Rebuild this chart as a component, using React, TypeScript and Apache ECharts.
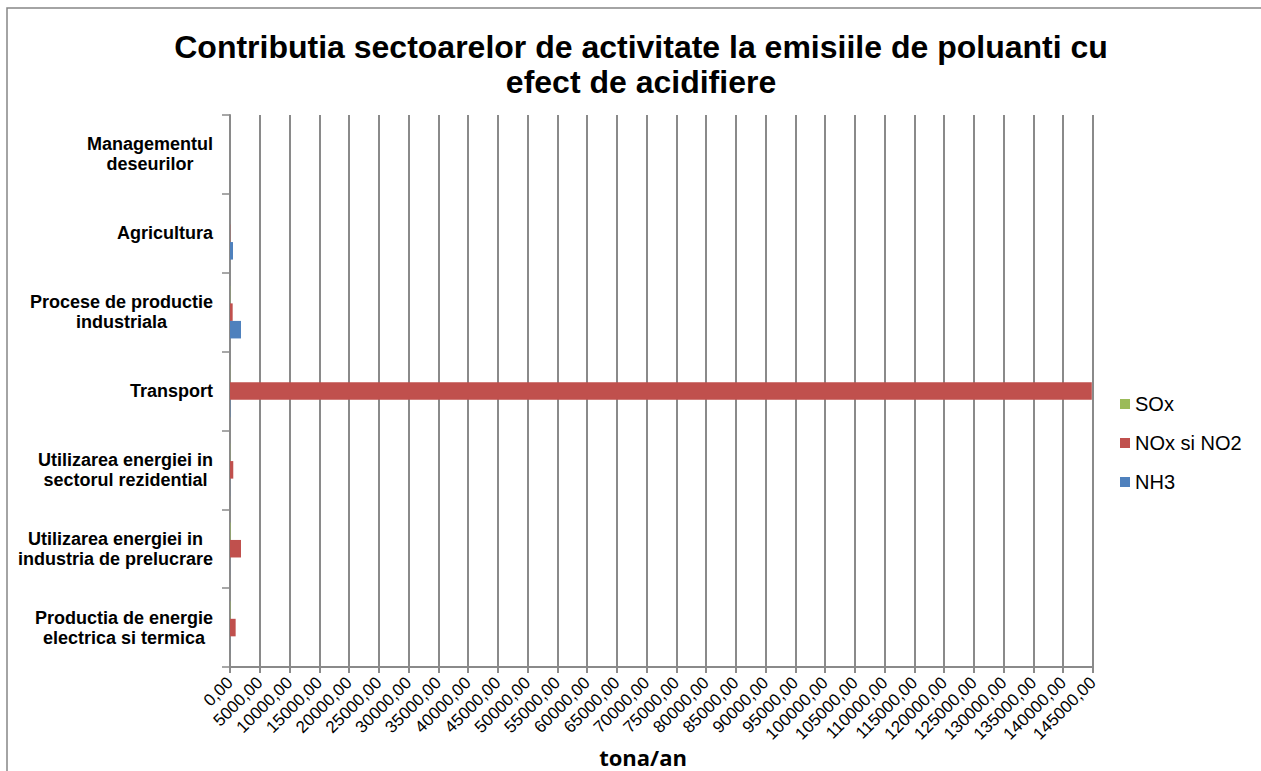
import React, { useEffect, useRef } from "react";
import * as echarts from "echarts";

const TITLE = "Contributia sectoarelor de activitate la emisiile de poluanti cu\nefect de acidifiere";
const AXIS_NAME = "tona/an";

const categories = [
  "Productia de energie\nelectrica si termica",
  "Utilizarea energiei in\nindustria de prelucrare",
  "Utilizarea energiei in\nsectorul rezidential",
  "Transport",
  "Procese de productie\nindustriala",
  "Agricultura",
  "Managementul\ndeseurilor",
];

const seriesNames = ["SOx", "NOx si NO2", "NH3"];
const soxValues = [60, 80, 30, 25, 40, 0, 0];
const noxValues = [950, 1850, 550, 144800, 450, 40, 0];
const nh3Values = [10, 15, 20, 60, 1850, 500, 0];

const COLORS: Record<string, string> = {
  SOx: "#9BBB59",
  "NOx si NO2": "#C0504D",
  NH3: "#4F81BD",
};

const AX_MIN = 0;
const AX_MAX = 145000;
const AX_STEP = 5000;

const FONT = "'Liberation Sans', Arial, sans-serif";

export default function App() {
  const ref = useRef<HTMLDivElement>(null);

  useEffect(() => {
    if (!ref.current) return;
    const chart = echarts.init(ref.current, undefined, { renderer: "svg" });

    const mk = (name: string, data: number[]) => ({
      name,
      type: "bar",
      data,
      barGap: "0%",
      barCategoryGap: "33.3%",
      itemStyle: { color: COLORS[name] },
    });

    chart.setOption({
      animation: false,
      backgroundColor: "#ffffff",
      textStyle: { fontFamily: FONT },
      graphic: [
        {
          type: "rect",
          shape: { x: 7, y: 8, width: 1400, height: 900 },
          style: { fill: "none", stroke: "#868686", lineWidth: 1.5 },
          silent: true,
          z: -10,
        },
        {
          type: "text",
          x: 641,
          y: 29,
          style: {
            text: TITLE,
            align: "center",
            verticalAlign: "top",
            fontFamily: FONT,
            fontWeight: "bold",
            fontSize: 32,
            lineHeight: 35,
            fill: "#000000",
          },
        },
        {
          type: "text",
          x: 643,
          y: 757,
          style: {
            text: AXIS_NAME,
            align: "center",
            verticalAlign: "middle",
            fontFamily: "'Open Sans', sans-serif",
            fontWeight: "bold",
            fontSize: 22,
            fill: "#000000",
          },
        },
      ],
      legend: {
        data: seriesNames,
        orient: "vertical",
        left: 1115,
        top: 389,
        itemWidth: 10,
        itemHeight: 10,
        itemGap: 19,
        icon: "rect",
        textStyle: { fontFamily: FONT, fontSize: 20, color: "#000", lineHeight: 20 },
      },
      grid: { left: 230, right: 168, top: 115, bottom: 104, containLabel: false },
      xAxis: {
        type: "value",
        min: AX_MIN,
        max: AX_MAX,
        interval: AX_STEP,
        axisLine: { show: true, lineStyle: { color: "#8a8a8a", width: 2 } },
        axisTick: { show: true, length: 6, lineStyle: { color: "#8a8a8a", width: 2 } },
        splitLine: { show: true, lineStyle: { color: "#8a8a8a", width: 2 } },
        axisLabel: {
          rotate: 45,
          margin: 13,
          fontFamily: FONT,
          fontSize: 17,
          color: "#000",
          formatter: (v: number) => v.toFixed(2).replace(".", ","),
        },
      },
      yAxis: {
        type: "category",
        data: categories,
        axisLine: { show: true, lineStyle: { color: "#8a8a8a", width: 2 } },
        axisTick: { show: true, length: 8, lineStyle: { color: "#8a8a8a", width: 1.5 } },
        splitLine: { show: false },
        axisLabel: {
          margin: 17,
          align: "right",
          formatter: (v: string) =>
            v
              .split("\n")
              .map((l) => `{c|${l}}`)
              .join("\n"),
          rich: {
            c: {
              align: "center",
              fontFamily: FONT,
              fontWeight: "bold",
              fontSize: 18,
              lineHeight: 20,
              color: "#000",
            },
          },
        },
      },
      series: [mk("SOx", soxValues), mk("NOx si NO2", noxValues), mk("NH3", nh3Values)],
    });

    return () => chart.dispose();
  }, []);

  return (
    <div
      ref={ref}
      style={{ position: "fixed", left: 0, top: 0, width: 1261, height: 771 }}
    />
  );
}
